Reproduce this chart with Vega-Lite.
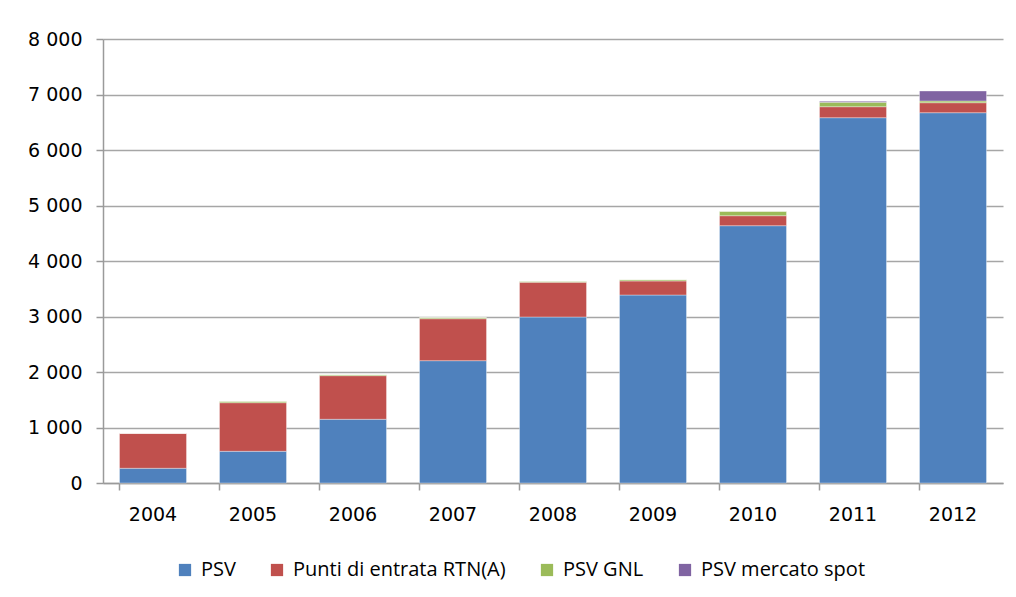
{
  "$schema": "https://vega.github.io/schema/vega-lite/v6.json",
  "autosize": "none",
  "width": 900,
  "height": 444,
  "padding": {"left": 103, "top": 39, "right": 13, "bottom": 114},
  "background": "white",
  "config": {
    "view": {"stroke": null},
    "font": "Open Sans",
    "axis": {"labelFont": "DejaVu Sans", "labelFontSize": 19, "labelColor": "#000000", "domainColor": "#9a9a9a", "tickColor": "#9a9a9a", "gridColor": "#a6a6a6", "gridWidth": 1.5, "domainWidth": 1.5, "tickWidth": 1.5},
    "legend": {"labelFont": "Open Sans", "labelFontSize": 20, "labelColor": "#000000"}
  },
  "data": {
    "values": [
      {"anno": "2004", "serie": "PSV", "ord": 1, "valore": 265},
      {"anno": "2004", "serie": "Punti di entrata RTN(A)", "ord": 2, "valore": 630},
      {"anno": "2004", "serie": "PSV GNL", "ord": 3, "valore": 0},
      {"anno": "2004", "serie": "PSV mercato spot", "ord": 4, "valore": 0},
      {"anno": "2005", "serie": "PSV", "ord": 1, "valore": 571},
      {"anno": "2005", "serie": "Punti di entrata RTN(A)", "ord": 2, "valore": 876},
      {"anno": "2005", "serie": "PSV GNL", "ord": 3, "valore": 25},
      {"anno": "2005", "serie": "PSV mercato spot", "ord": 4, "valore": 0},
      {"anno": "2006", "serie": "PSV", "ord": 1, "valore": 1148},
      {"anno": "2006", "serie": "Punti di entrata RTN(A)", "ord": 2, "valore": 786},
      {"anno": "2006", "serie": "PSV GNL", "ord": 3, "valore": 18},
      {"anno": "2006", "serie": "PSV mercato spot", "ord": 4, "valore": 0},
      {"anno": "2007", "serie": "PSV", "ord": 1, "valore": 2204},
      {"anno": "2007", "serie": "Punti di entrata RTN(A)", "ord": 2, "valore": 756},
      {"anno": "2007", "serie": "PSV GNL", "ord": 3, "valore": 20},
      {"anno": "2007", "serie": "PSV mercato spot", "ord": 4, "valore": 0},
      {"anno": "2008", "serie": "PSV", "ord": 1, "valore": 2991},
      {"anno": "2008", "serie": "Punti di entrata RTN(A)", "ord": 2, "valore": 625},
      {"anno": "2008", "serie": "PSV GNL", "ord": 3, "valore": 18},
      {"anno": "2008", "serie": "PSV mercato spot", "ord": 4, "valore": 0},
      {"anno": "2009", "serie": "PSV", "ord": 1, "valore": 3387},
      {"anno": "2009", "serie": "Punti di entrata RTN(A)", "ord": 2, "valore": 253},
      {"anno": "2009", "serie": "PSV GNL", "ord": 3, "valore": 23},
      {"anno": "2009", "serie": "PSV mercato spot", "ord": 4, "valore": 0},
      {"anno": "2010", "serie": "PSV", "ord": 1, "valore": 4636},
      {"anno": "2010", "serie": "Punti di entrata RTN(A)", "ord": 2, "valore": 180},
      {"anno": "2010", "serie": "PSV GNL", "ord": 3, "valore": 79},
      {"anno": "2010", "serie": "PSV mercato spot", "ord": 4, "valore": 0},
      {"anno": "2011", "serie": "PSV", "ord": 1, "valore": 6582},
      {"anno": "2011", "serie": "Punti di entrata RTN(A)", "ord": 2, "valore": 198},
      {"anno": "2011", "serie": "PSV GNL", "ord": 3, "valore": 79},
      {"anno": "2011", "serie": "PSV mercato spot", "ord": 4, "valore": 18},
      {"anno": "2012", "serie": "PSV", "ord": 1, "valore": 6672},
      {"anno": "2012", "serie": "Punti di entrata RTN(A)", "ord": 2, "valore": 180},
      {"anno": "2012", "serie": "PSV GNL", "ord": 3, "valore": 31},
      {"anno": "2012", "serie": "PSV mercato spot", "ord": 4, "valore": 180}
    ]
  },
  "mark": {"type": "bar", "stroke": "#ffffff", "strokeOpacity": 0.5, "strokeWidth": 0.7},
  "encoding": {
    "x": {
      "field": "anno", "type": "ordinal",
      "scale": {"paddingInner": 0.33, "paddingOuter": 0.165},
      "axis": {"title": null, "labelAngle": 0, "tickSize": 7, "labelPadding": 15, "bandPosition": 0, "grid": false}
    },
    "y": {
      "field": "valore", "type": "quantitative", "stack": "zero",
      "scale": {"domain": [0, 8000], "nice": false},
      "axis": {"title": null, "values": [0, 1000, 2000, 3000, 4000, 5000, 6000, 7000, 8000], "tickSize": 7, "labelPadding": 14, "labelExpr": "replace(format(datum.value, ','), ',', ' ')"}
    },
    "color": {
      "field": "serie", "type": "nominal",
      "scale": {"domain": ["PSV", "Punti di entrata RTN(A)", "PSV GNL", "PSV mercato spot"], "range": ["#4F81BD", "#C0504D", "#9BBB59", "#8064A2"]},
      "legend": {"title": null, "orient": "none", "legendX": 72, "legendY": 521, "padding": 0, "direction": "horizontal", "symbolType": "square", "symbolSize": 150, "symbolStrokeWidth": 0, "columnPadding": 31, "labelOffset": 6, "labelLimit": 400}
    },
    "order": {"field": "ord", "type": "quantitative"}
  }
}
